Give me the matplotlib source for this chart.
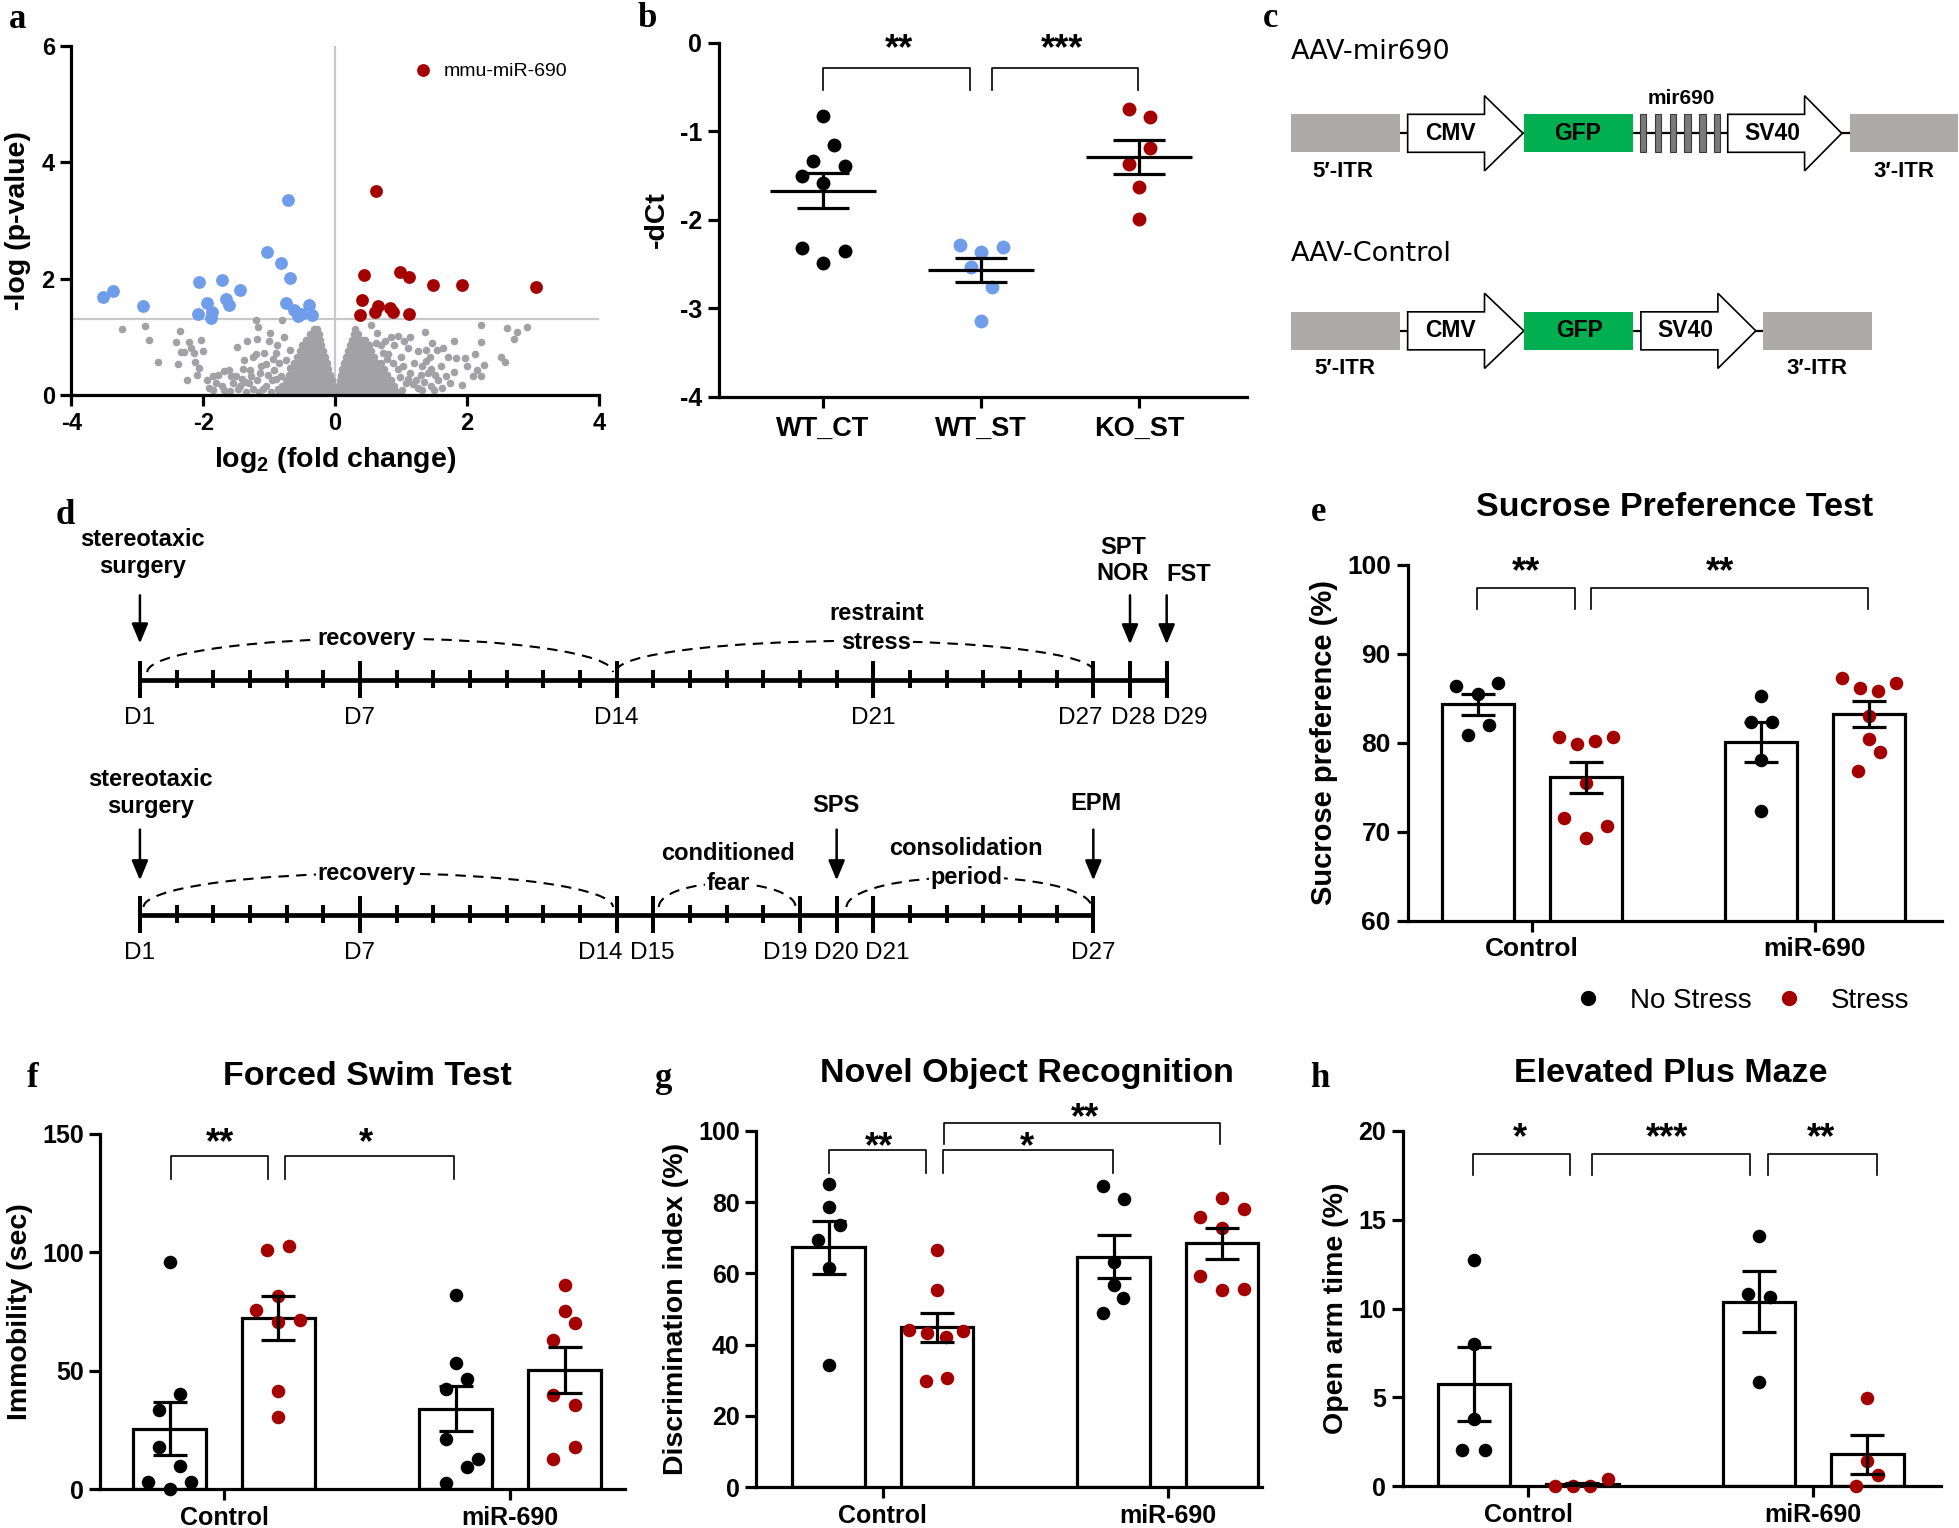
import numpy as np
import matplotlib
matplotlib.use('Agg')
import matplotlib.pyplot as plt
import matplotlib.patches as mpatches
from matplotlib.lines import Line2D

plt.rcParams['font.family'] = ['Liberation Sans', 'DejaVu Sans']
plt.rcParams['font.weight'] = 'bold'
plt.rcParams['axes.labelweight'] = 'bold'
plt.rcParams['axes.unicode_minus'] = False
plt.rcParams['mathtext.fontset'] = 'custom'
plt.rcParams['mathtext.rm'] = 'Liberation Sans:bold'
plt.rcParams['mathtext.bf'] = 'Liberation Sans:bold'

RED = '#a50000'
BLUE = '#6f9de9'
GRAY = '#a2a2a6'
ITR_COL = '#aeaaaa'
GFP_COL = '#00b050'
SERIF = ['Liberation Serif', 'DejaVu Serif']
LW = 2.3

# ---------------- a: volcano plot ----------------
a_down = np.array([(-3.52, 1.69), (-3.37, 1.78), (-2.91, 1.53), (-2.07, 1.95), (-1.94, 1.58),
                   (-2.08, 1.39), (-1.87, 1.43), (-1.89, 1.33), (-1.72, 1.97), (-1.65, 1.65),
                   (-1.61, 1.55), (-1.44, 1.81), (-1.04, 2.46), (-0.82, 2.26), (-0.72, 3.36),
                   (-0.69, 2.01), (-0.75, 1.58), (-0.62, 1.46), (-0.56, 1.36), (-0.52, 1.40),
                   (-0.40, 1.55), (-0.35, 1.37)])
a_up = np.array([(0.62, 3.51), (0.44, 2.06), (0.98, 2.11), (1.12, 2.02), (1.48, 1.89),
                 (1.93, 1.89), (3.04, 1.85), (0.40, 1.63), (0.38, 1.38), (0.60, 1.43),
                 (0.65, 1.53), (0.83, 1.49), (0.88, 1.42), (1.12, 1.39)])
a_ns = np.array([
    (-3.23, 1.13), (-2.89, 1.19), (-2.83, 0.95), (-2.69, 0.57), (-2.41, 0.91), (-2.35, 1.10),
    (-2.38, 0.54), (-2.34, 0.73), (-2.30, 0.73), (-2.24, 0.26), (-2.21, 0.91), (-2.18, 0.80),
    (-2.14, 0.72), (-2.12, 0.57), (-2.10, 0.34), (-2.07, 0.46), (-2.03, 0.95), (-2.01, 0.75),
    (-1.94, 0.26), (-1.85, 0.33), (-1.86, 0.09), (-1.77, 0.34), (-1.69, 0.42), (-1.68, 0.09),
    (-1.61, 0.43), (-1.49, 0.83), (-1.51, 0.33), (-1.47, 0.10), (-1.39, 0.60), (-1.37, 0.23),
    (-1.33, 0.92), (-1.29, 0.43), (-1.24, 0.11), (-1.20, 0.70), (-1.20, 1.29), (-1.19, 0.97),
    (-1.17, 1.17), (-1.14, 0.37), (-1.10, 0.10), (-1.05, 0.54), (-1.01, 0.92), (-0.99, 1.06),
    (-0.96, 0.26), (-0.93, 0.43), (-0.90, 0.72), (-0.87, 0.11), (-0.82, 0.32), (-0.81, 1.29),
    (-0.78, 1.00), (-0.75, 0.60), (-0.72, 0.09), (-0.69, 0.77), (-0.68, 0.46),
    (-1.55, 0.20), (-1.42, 0.28), (-1.30, 0.20), (-1.18, 0.25), (-1.05, 0.15), (-0.98, 0.05),
    (-1.60, 0.07), (-1.35, 0.05), (-0.90, 0.28), (-1.12, 0.50), (-1.25, 0.65), (-0.85, 0.55),
    (-1.92, 0.12), (-1.80, 0.20), (-1.72, 0.16), (-1.58, 0.32), (-1.45, 0.15), (-1.28, 0.32),
    (-1.15, 0.05), (-1.02, 0.35), (-0.95, 0.62), (-1.08, 0.72), (-0.88, 0.85), (-1.40, 0.45),
    (0.55, 1.20), (0.64, 1.06), (0.76, 0.92), (0.85, 1.00), (0.96, 1.01), (0.90, 0.86),
    (1.14, 1.00), (1.37, 1.09), (1.25, 0.75), (1.38, 0.77), (1.47, 0.90), (1.44, 0.66),
    (1.55, 0.77), (1.63, 0.80), (1.71, 0.66), (1.81, 0.92), (1.84, 0.63), (1.97, 0.63),
    (2.00, 0.49), (2.12, 0.70), (2.21, 0.91), (2.22, 1.20), (2.26, 0.52), (2.15, 0.43),
    (2.09, 0.32), (2.21, 0.32), (1.93, 0.17), (1.80, 0.40), (1.68, 0.32), (1.74, 0.20),
    (1.56, 0.26), (1.50, 0.09), (1.32, 0.09), (1.41, 0.37), (1.32, 0.49), (1.23, 0.26),
    (1.14, 0.37), (1.08, 0.20), (1.03, 0.49), (2.51, 0.66), (2.58, 0.56), (2.60, 1.15),
    (2.72, 0.97), (2.76, 1.08), (2.91, 1.16),
    (1.20, 0.55), (1.30, 0.35), (1.45, 0.45), (1.60, 0.50), (1.00, 0.65), (0.80, 0.70),
    (1.10, 0.80), (0.70, 0.85), (1.45, 0.15), (1.25, 0.12), (1.62, 0.12), (0.95, 0.45),
    (1.02, 0.08), (1.10, 0.28), (1.18, 0.18), (0.98, 0.30), (0.88, 0.55), (0.78, 0.62),
    (1.35, 0.22), (1.52, 0.35), (1.38, 0.58), (0.72, 0.72), (0.62, 0.90), (1.05, 0.92)])
# dense V close to zero, read as rows: (y level, x positions)
a_dense_rows = [
    (0.05, [-0.85, -0.78, -0.71, -0.64, -0.57, -0.50, -0.43, -0.36, -0.29, -0.22, -0.15, -0.08,
            -0.02, 0.03, 0.10, 0.17, 0.24, 0.31, 0.38, 0.45, 0.52, 0.59, 0.66, 0.73, 0.80,
            0.87, 0.94]),
    (0.15, [-0.80, -0.73, -0.66, -0.59, -0.52, -0.45, -0.38, -0.31, -0.24, -0.17, -0.10, -0.04,
            0.05, 0.12, 0.19, 0.26, 0.33, 0.40, 0.47, 0.54, 0.61, 0.68, 0.75, 0.82, 0.89]),
    (0.25, [-0.75, -0.68, -0.61, -0.54, -0.47, -0.40, -0.33, -0.26, -0.19, -0.12, -0.05,
            0.07, 0.14, 0.21, 0.28, 0.35, 0.42, 0.49, 0.56, 0.63, 0.70, 0.77, 0.84]),
    (0.35, [-0.70, -0.63, -0.56, -0.49, -0.42, -0.35, -0.28, -0.21, -0.14, -0.08,
            0.09, 0.16, 0.23, 0.30, 0.37, 0.44, 0.51, 0.58, 0.65, 0.72, 0.79]),
    (0.45, [-0.66, -0.59, -0.52, -0.45, -0.38, -0.31, -0.24, -0.17, -0.11,
            0.11, 0.18, 0.25, 0.32, 0.39, 0.46, 0.53, 0.60, 0.67, 0.74]),
    (0.55, [-0.62, -0.55, -0.48, -0.41, -0.34, -0.27, -0.20, -0.13,
            0.14, 0.21, 0.28, 0.35, 0.42, 0.49, 0.56, 0.63, 0.70]),
    (0.65, [-0.58, -0.51, -0.44, -0.37, -0.30, -0.23, -0.16,
            0.17, 0.24, 0.31, 0.38, 0.45, 0.52, 0.59]),
    (0.75, [-0.54, -0.47, -0.40, -0.33, -0.26, -0.19, 0.20, 0.27, 0.34, 0.41, 0.48, 0.55]),
    (0.85, [-0.50, -0.43, -0.36, -0.29, -0.22, 0.23, 0.30, 0.37, 0.44, 0.51]),
    (0.95, [-0.44, -0.37, -0.30, -0.23, 0.25, 0.32, 0.39, 0.46]),
    (1.05, [-0.38, -0.31, -0.25, 0.28, 0.35]),
    (1.13, [-0.32, -0.27, 0.30]),
]
a_thresh = 1.3

# ---------------- b: -dCt scatter ----------------
b_groups = ['WT_CT', 'WT_ST', 'KO_ST']
b_colors = ['black', BLUE, RED]
b_vals = [[-0.83, -1.16, -1.34, -1.39, -1.51, -1.59, -2.32, -2.35, -2.49],
          [-2.29, -2.31, -2.36, -2.54, -2.76, -3.14],
          [-0.75, -0.84, -1.19, -1.37, -1.63, -1.99]]
b_offs = [[0, 0.07, -0.065, 0.137, -0.134, 0, -0.134, 0.137, 0],
          [-0.134, 0.137, 0, -0.065, 0.07, 0],
          [-0.067, 0.067, 0.067, -0.067, 0, 0]]
b_mean = [-1.67, -2.57, -1.29]
b_sem = [0.195, 0.135, 0.195]
b_brackets = [(0.0, 0.93, -0.29, -0.53, '**', 0.48, 0.05),
              (1.07, 1.99, -0.29, -0.53, '***', 1.51, 0.05)]

# ---------------- e-h: bar panels ----------------
groups = ['Control', 'miR-690']

e_mean = [84.3, 76.1, 80.1, 83.2]
e_sem = [1.2, 1.75, 2.27, 1.45]
e_vals = [[86.4, 86.7, 85.5, 82.0, 80.9],
          [80.6, 79.9, 80.2, 80.6, 75.5, 71.5, 70.7, 69.3],
          [85.2, 82.3, 82.3, 78.1, 72.3],
          [87.3, 86.1, 85.8, 86.7, 83.0, 80.4, 78.9, 76.8]]
e_offs = [[-0.077, 0.072, 0.0, 0.037, -0.037],
          [-0.093, -0.032, 0.032, 0.096, 0.0, -0.075, 0.077, 0.0],
          [0.0, -0.037, 0.038, 0.0, 0.0],
          [-0.094, -0.030, 0.033, 0.097, 0.0, 0.0, 0.038, -0.037]]
e_brackets = [(-0.193, 0.152, 97.41, 94.97, '**', -0.02, 100.4),
              (0.209, 1.187, 97.41, 94.97, '**', 0.665, 100.4)]

f_mean = [25.5, 72.2, 34.0, 50.3]
f_sem = [11.2, 9.2, 9.6, 9.7]
f_vals = [[95.9, 40.3, 33.3, 17.9, 9.7, 3.1, 3.1, 0.3],
          [101.1, 102.5, 81.4, 75.5, 70.6, 71.3, 41.3, 30.5],
          [82.1, 53.3, 46.4, 42.2, 21.4, 12.9, 9.4, 2.7],
          [86.0, 75.2, 70.3, 63.1, 39.6, 35.4, 17.9, 12.9]]
f_offs = [[0, 0.036, -0.039, -0.039, 0.036, -0.077, 0.074, 0],
          [-0.039, 0.036, 0, -0.077, 0, 0.074, 0, 0],
          [0, 0, 0.039, -0.036, -0.036, 0.077, 0.039, -0.036],
          [0, 0, 0.037, -0.039, -0.039, 0.037, 0.037, -0.039]]
f_brackets = [(-0.186, 0.155, 140.6, 131.0, '**', -0.013, 150.7),
              (0.213, 0.804, 140.6, 131.0, '*', 0.497, 150.7)]

g_mean = [67.3, 44.8, 64.7, 68.4]
g_sem = [7.5, 4.2, 6.0, 4.3]
g_vals = [[85.2, 78.7, 73.5, 69.3, 61.6, 34.2],
          [66.5, 55.2, 44.0, 43.3, 42.1, 43.8, 29.7, 30.6],
          [84.6, 80.8, 63.2, 56.6, 53.1, 48.9],
          [81.2, 75.8, 78.0, 72.8, 59.2, 55.2, 55.5]]
g_offs = [[0, 0, 0.039, -0.037, 0, 0],
          [0, 0, -0.097, -0.036, 0.032, 0.09, -0.04, 0.036],
          [-0.039, 0.035, 0, 0, 0.032, -0.039],
          [0, -0.076, 0.077, 0, -0.076, 0, 0.077]]
g_brackets = [(-0.189, 0.152, 94.6, 88.3, '**', -0.014, 98.5),
              (0.212, 0.807, 94.6, 88.3, '*', 0.506, 98.5),
              (0.215, 1.182, 102.3, 96.3, '**', 0.709, 106.6)]

h_mean = [5.75, 0.1, 10.4, 1.8]
h_sem = [2.07, 0.1, 1.69, 1.1]
h_vals = [[12.76, 7.99, 3.77, 2.03, 2.03],
          [0, 0, 0, 0.39],
          [14.07, 10.84, 10.66, 5.87],
          [4.97, 1.43, 0.62, 0]]
h_offs = [[0, 0, 0, -0.041, 0.039],
          [-0.095, -0.033, 0.027, 0.09],
          [0, -0.039, 0.039, 0],
          [0, 0, 0.039, -0.038]]
h_brackets = [(-0.195, 0.146, 18.72, 17.5, '*', -0.03, 20.2),
              (0.224, 0.78, 18.72, 17.5, '***', 0.487, 20.2),
              (0.842, 1.224, 18.72, 17.5, '**', 1.026, 20.2)]

BAR_X = [-0.19, 0.19, 0.81, 1.19]
DOT_COL = ['black', RED, 'black', RED]

# ---------------- d: timelines ----------------
t1_major = [1, 7, 14, 21, 27, 28, 29]
t1_labels = ['D1', 'D7', 'D14', 'D21', 'D27', 'D28', 'D29']
t1_label_x = [1, 7, 14, 21, 26.63, 28.08, 29.52]
t2_major = [1, 7, 14, 15, 19, 20, 21, 27]
t2_labels = ['D1', 'D7', 'D14', 'D15', 'D19', 'D20', 'D21', 'D27']
t2_label_x = [1, 7, 13.55, 14.97, 18.6, 20, 21.38, 27]

fig = plt.figure(figsize=(19.59, 15.28), dpi=100)
W, H = 1568.0, 1223.0


def box(x0, y0, x1, y1):
    return [x0 / W, 1 - y1 / H, (x1 - x0) / W, (y1 - y0) / H]


def fxy(x, y):
    return (x / W, 1 - y / H)


def style(ax, size):
    for s in ['top', 'right']:
        ax.spines[s].set_visible(False)
    for s in ['left', 'bottom']:
        ax.spines[s].set_linewidth(LW)
    ax.tick_params(direction='out', length=8, width=LW, labelsize=size, pad=4)


def draw_brackets(ax, items):
    for x1, x2, yt, yb, lab, xs, ys in items:
        ax.plot([x1, x1, x2, x2], [yb, yt, yt, yb], color='black', lw=1.2,
                clip_on=False, zorder=5)
        ax.annotate(lab, (xs, ys), xytext=(0, -15.2), textcoords='offset points',
                    ha='center', va='baseline', fontsize=26, annotation_clip=False)


def bar_panel(ax, means, sems, vals, offs):
    ax.bar(BAR_X, means, width=0.255, color='white', edgecolor='black',
           linewidth=LW, zorder=1)
    for i in range(4):
        ax.scatter(BAR_X[i] + np.array(offs[i]), vals[i], s=95, color=DOT_COL[i],
                   linewidths=0, zorder=3, clip_on=False)
    ax.errorbar(BAR_X, means, yerr=sems, fmt='none', ecolor='black',
                elinewidth=LW, capsize=12.5, capthick=LW, zorder=4)
    ax.set_xticks([0, 1])
    ax.set_xticklabels(groups)


# panel letters
for lab, x, y in [('a', 14, 22.7), ('b', 518, 21.9), ('c', 1017, 21.3), ('d', 52, 419.2),
                  ('e', 1055, 417.4), ('f', 26, 870), ('g', 530.5, 870), ('h', 1056.7, 870)]:
    fig.text(*fxy(x, y), lab, family=SERIF, fontsize=25, fontweight='bold',
             ha='center', va='baseline')

# ---- a ----
ax = fig.add_axes(box(57.2, 36.8, 479.3, 316.1))
style(ax, 17)
ax.axvline(0, color='#c8c8c8', lw=1.6, zorder=1)
ax.axhline(a_thresh, color='#c8c8c8', lw=1.6, zorder=1)
dense_x = np.concatenate([xs for _, xs in a_dense_rows])
dense_y = np.concatenate([[yv] * len(xs) for yv, xs in a_dense_rows])
ax.scatter(dense_x, dense_y, s=30, color=GRAY, linewidths=0, zorder=2, clip_on=False)
ax.scatter(a_ns[:, 0], a_ns[:, 1], s=30, color=GRAY, linewidths=0, zorder=2, clip_on=False)
ax.scatter(a_down[:, 0], a_down[:, 1], s=85, color=BLUE, linewidths=0, zorder=3)
red_pts = ax.scatter(a_up[:, 0], a_up[:, 1], s=85, color=RED, linewidths=0, zorder=3)
ax.set_xlim(-4, 4)
ax.set_ylim(0, 6)
ax.set_xticks([-4, -2, 0, 2, 4])
ax.set_yticks([0, 2, 4, 6])
ax.set_xlabel(r'$\mathbf{log_2}$ (fold change)', fontsize=20.5, va='center')
ax.xaxis.set_label_coords(0.5, -0.186)
ax.set_ylabel('-log (p-value)', fontsize=20.5, va='center')
ax.yaxis.set_label_coords(-0.102, 0.5)
ax.legend([red_pts], ['mmu-miR-690'], loc='center left', bbox_to_anchor=(0.6475, 0.929),
          frameon=False, handlelength=1, handletextpad=0.6, borderpad=0, borderaxespad=0,
          prop={'size': 14, 'weight': 'normal'})

# ---- b ----
ax = fig.add_axes(box(575.4, 34.2, 998, 317.5))
style(ax, 18)
for i in range(3):
    ax.scatter(i + np.array(b_offs[i]), b_vals[i], s=100, color=b_colors[i], linewidths=0,
               zorder=3, clip_on=False)
ax.hlines(b_mean, np.arange(3) - 0.335, np.arange(3) + 0.335, color='black', lw=LW, zorder=4)
ax.errorbar(range(3), b_mean, yerr=b_sem, fmt='none', ecolor='black', elinewidth=LW,
            capsize=18.7, capthick=LW, zorder=4)
ax.set_xlim(-0.658, 2.68)
ax.set_ylim(-4, 0)
ax.set_yticks([0, -1, -2, -3, -4])
ax.set_xticks(range(3))
ax.set_xticklabels(b_groups)
ax.tick_params(axis='x', pad=6, labelsize=19.5)
ax.set_ylabel('-dCt', fontsize=20.5, va='center')
ax.yaxis.set_label_coords(-0.117, 0.5)
draw_brackets(ax, b_brackets)

# ---- c ----
ax = fig.add_axes(box(1000, 0, 1568, 310))
ax.set_xlim(1000, 1568)
ax.set_ylim(310, 0)
ax.axis('off')


def arrow_box(ax, x0, x1, tip, yc, bh, hh):
    pts = [(x0, yc - bh), (x1, yc - bh), (x1, yc - hh), (tip, yc), (x1, yc + hh),
           (x1, yc + bh), (x0, yc + bh)]
    ax.add_patch(mpatches.Polygon(pts, closed=True, fc='white', ec='black', lw=1.2, zorder=2))


def construct(ax, yc, parts, line_end):
    bh, hh = 15.2, 30.1
    ax.plot([1120, line_end], [yc, yc], color='black', lw=1.6, zorder=1)
    for kind, x0, x1, tip, label, lx in parts:
        if kind == 'itr':
            ax.add_patch(mpatches.Rectangle((x0, yc - bh), x1 - x0, 2 * bh, fc=ITR_COL,
                                            ec='none', zorder=2))
        elif kind == 'gfp':
            ax.add_patch(mpatches.Rectangle((x0, yc - bh), x1 - x0, 2 * bh, fc=GFP_COL,
                                            ec='none', zorder=2))
        elif kind == 'arrow':
            arrow_box(ax, x0, x1, tip, yc, bh, hh)
        if label:
            ax.text(lx, yc, label, ha='center', va='center', fontsize=16.5,
                    fontweight='bold', zorder=3)


ax.text(1033, 41.4, 'AAV-mir690', family=['DejaVu Sans'], fontsize=19.5,
        fontweight='normal', ha='left', va='center')
construct(ax, 106.7, [('itr', 1033.3, 1120.2, None, None, 0),
                      ('arrow', 1126.7, 1188.2, 1219.0, 'CMV', 1161),
                      ('gfp', 1219.7, 1306.9, None, 'GFP', 1263),
                      ('arrow', 1382.9, 1444.4, 1474.1, 'SV40', 1418.7),
                      ('itr', 1480.6, 1567.5, None, None, 0)], 1481)
for xb in [1314.9, 1326.8, 1338.8, 1350.7, 1362.7, 1374.6]:
    ax.add_patch(mpatches.Rectangle((xb - 2.5, 106.7 - 15.2), 5, 30.4, fc='#7a7a7a',
                                    ec='#3a3a3a', lw=0.8, zorder=2))
ax.text(1345.6, 79.2, 'mir690', ha='center', va='center', fontsize=15, fontweight='bold')
ax.text(1075, 137.4, '5\u2032-ITR', ha='center', va='center', fontsize=16)
ax.text(1523.7, 137.4, '3\u2032-ITR', ha='center', va='center', fontsize=16)

ax.text(1033, 203.3, 'AAV-Control', family=['DejaVu Sans'], fontsize=19.5,
        fontweight='normal', ha='left', va='center')
construct(ax, 264.8, [('itr', 1033.3, 1120.2, None, None, 0),
                      ('arrow', 1126.7, 1188.2, 1219.7, 'CMV', 1161),
                      ('gfp', 1219.7, 1306.9, None, 'GFP', 1264.2),
                      ('arrow', 1313.4, 1375.0, 1405.4, 'SV40', 1349.3),
                      ('itr', 1411.5, 1498.7, None, None, 0)], 1412)
ax.text(1076.7, 294.8, '5\u2032-ITR', ha='center', va='center', fontsize=16)
ax.text(1454.2, 294.8, '3\u2032-ITR', ha='center', va='center', fontsize=16)

# ---- d ----
ax = fig.add_axes(box(0, 390, 1000, 790))
ax.set_xlim(-2.816, 31.255)
ax.set_ylim(790, 390)
ax.axis('off')

BOLD_D = dict(fontsize=17, fontweight='bold', ha='center', va='center')
WHITE = dict(fc='white', ec='none', pad=1)


def timeline(ax, y, majors, labels, label_x, last):
    minors = [d for d in range(1, last + 1) if d not in majors]
    ax.plot([1, last], [y, y], color='black', lw=3.4, solid_capstyle='butt', zorder=2)
    ax.vlines(majors, y - 15, y + 14.5, color='black', lw=2.9, zorder=2)
    ax.vlines(minors, y - 8, y + 6.7, color='black', lw=2.9, zorder=2)
    for lab, lx in zip(labels, label_x):
        ax.text(lx, y + 30.5, lab, fontsize=17.5, fontweight='normal',
                ha='center', va='center')


def down_arrow(ax, day, y0, y1):
    ax.annotate('', xy=(day, y1), xytext=(day, y0),
                arrowprops=dict(arrowstyle='-|>,head_length=0.6,head_width=0.25',
                                color='black', lw=1.8, mutation_scale=20,
                                shrinkA=0, shrinkB=0))


def dashed_arc(ax, d0, d1, ybase, ytop):
    arc = mpatches.Arc(((d0 + d1) / 2, ybase), d1 - d0, 2 * (ybase - ytop),
                       theta1=180, theta2=360, lw=1.5, color='black',
                       linestyle=(0, (5, 3.5)), zorder=1)
    ax.add_patch(arc)


timeline(ax, 544, t1_major, t1_labels, t1_label_x, 29)
dashed_arc(ax, 1.2, 13.9, 538, 511)
dashed_arc(ax, 14.0, 27.0, 537, 513)
down_arrow(ax, 1, 476.5, 515)
down_arrow(ax, 28, 476.5, 515.7)
down_arrow(ax, 29, 476.5, 515.7)
ax.text(1.06, 442.4, 'stereotaxic\nsurgery', linespacing=1.2, **BOLD_D)
ax.text(7.17, 511, 'recovery', bbox=WHITE, **BOLD_D)
ax.text(21.08, 491.2, 'restraint', **BOLD_D)
ax.text(21.08, 513.9, 'stress', bbox=WHITE, **BOLD_D)
ax.text(27.81, 448.5, 'SPT\nNOR', linespacing=1.2, **BOLD_D)
ax.text(29.6, 459.7, 'FST', **BOLD_D)

timeline(ax, 732, t2_major, t2_labels, t2_label_x, 27)
dashed_arc(ax, 1.1, 13.9, 726, 699)
dashed_arc(ax, 15.15, 18.88, 726, 707)
dashed_arc(ax, 20.27, 26.95, 726, 702)
down_arrow(ax, 1, 664, 704.6)
down_arrow(ax, 20, 664, 704.6)
down_arrow(ax, 27, 664, 704.6)
ax.text(1.3, 634.7, 'stereotaxic\nsurgery', linespacing=1.2, **BOLD_D)
ax.text(7.17, 699.3, 'recovery', bbox=WHITE, **BOLD_D)
ax.text(17.04, 683.3, 'conditioned', **BOLD_D)
ax.text(17.04, 706.8, 'fear', bbox=WHITE, **BOLD_D)
ax.text(19.99, 644.6, 'SPS', **BOLD_D)
ax.text(23.53, 679.3, 'consolidation', **BOLD_D)
ax.text(23.53, 702, 'period', bbox=WHITE, **BOLD_D)
ax.text(27.06, 643.3, 'EPM', **BOLD_D)

# ---- e ----
ax = fig.add_axes(box(1126.6, 451.9, 1554, 737))
style(ax, 19)
bar_panel(ax, e_mean, e_sem, e_vals, e_offs)
ax.set_xlim(-0.439, 1.447)
ax.set_ylim(60, 100)
ax.set_yticks([60, 70, 80, 90, 100])
ax.set_ylabel('Sucrose preference (%)', fontsize=21, va='center')
ax.yaxis.set_label_coords(-0.156, 0.5)
draw_brackets(ax, e_brackets)
fig.text(*fxy(1340.4, 406.3), 'Sucrose Preference Test', fontsize=24.5, ha='center', va='center')
fig.legend([Line2D([], [], marker='o', ls='', color='black', ms=10),
            Line2D([], [], marker='o', ls='', color=RED, ms=10)],
           ['No Stress', 'Stress'], ncol=2, loc='center left', bbox_to_anchor=fxy(1260, 801),
           frameon=False, handlelength=1, handletextpad=1.0, columnspacing=0.84,
           borderpad=0, borderaxespad=0, prop={'size': 20, 'weight': 'normal'})

# ---- f ----
ax = fig.add_axes(box(80.4, 907.4, 500, 1192))
style(ax, 18)
bar_panel(ax, f_mean, f_sem, f_vals, f_offs)
ax.set_xlim(-0.432, 1.40)
ax.set_ylim(0, 150)
ax.set_yticks([0, 50, 100, 150])
ax.set_ylabel('Immobility (sec)', fontsize=20.5, va='center')
ax.yaxis.set_label_coords(-0.153, 0.5)
draw_brackets(ax, f_brackets)
fig.text(*fxy(294, 861.5), 'Forced Swim Test', fontsize=24.5, ha='center', va='center')

# ---- g ----
ax = fig.add_axes(box(605.4, 905.2, 1010, 1190.2))
style(ax, 18)
bar_panel(ax, g_mean, g_sem, g_vals, g_offs)
ax.set_xlim(-0.444, 1.33)
ax.set_ylim(0, 100)
ax.set_yticks([0, 20, 40, 60, 80, 100])
ax.set_ylabel('Discrimination index (%)', fontsize=20.5, va='center')
ax.yaxis.set_label_coords(-0.159, 0.5)
draw_brackets(ax, g_brackets)
fig.text(*fxy(822, 859.3), 'Novel Object Recognition', fontsize=24.5, ha='center', va='center')

# ---- h ----
ax = fig.add_axes(box(1122.7, 905.2, 1553.2, 1189.6))
style(ax, 18)
bar_panel(ax, h_mean, h_sem, h_vals, h_offs)
ax.set_xlim(-0.441, 1.447)
ax.set_ylim(0, 20)
ax.set_yticks([0, 5, 10, 15, 20])
ax.set_ylabel('Open arm time (%)', fontsize=20.5, va='center')
ax.yaxis.set_label_coords(-0.124, 0.5)
draw_brackets(ax, h_brackets)
fig.text(*fxy(1337, 859), 'Elevated Plus Maze', fontsize=24.5, ha='center', va='center')

fig.savefig('out.png', dpi=100)
